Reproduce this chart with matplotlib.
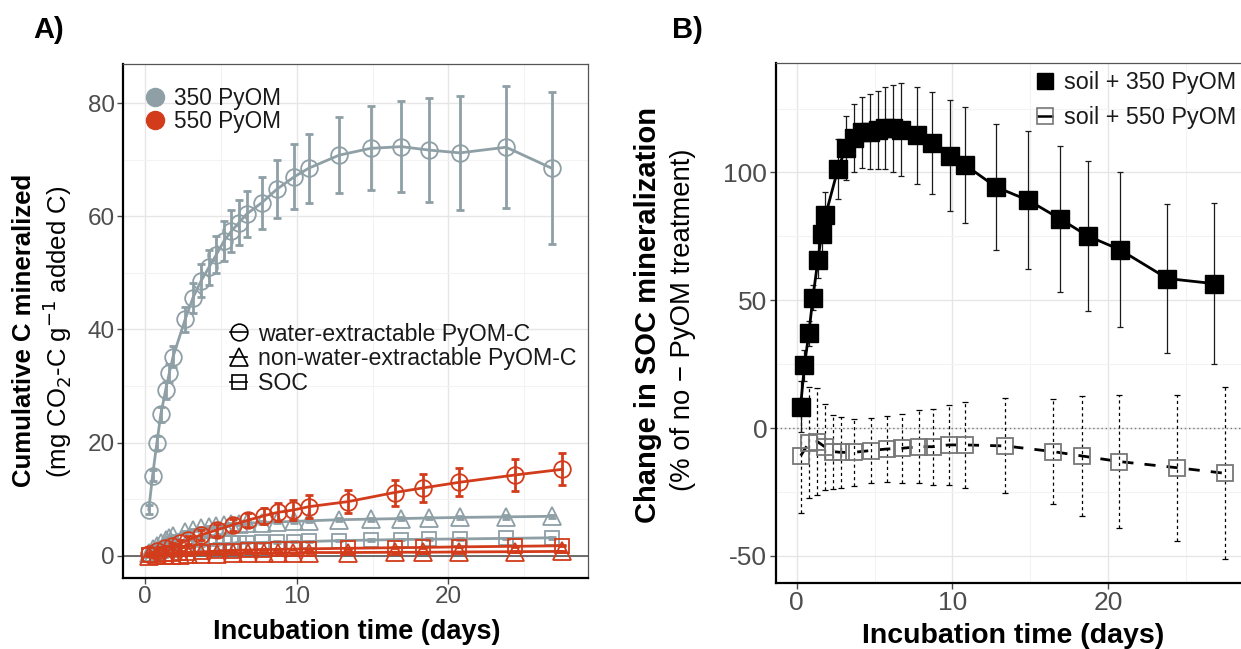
import matplotlib
matplotlib.use("Agg")
import matplotlib.pyplot as plt
from matplotlib.lines import Line2D
import numpy as np

plt.rcParams['font.family'] = ['Liberation Sans', 'DejaVu Sans']
plt.rcParams['axes.unicode_minus'] = False

# ---------------- data ----------------
# measurement times (days)
t350 = [0.25, 0.5, 0.78, 1.04, 1.36, 1.6, 1.85, 2.65, 3.16, 3.7, 4.22, 4.7, 5.2,
        5.7, 6.2, 6.7, 7.7, 8.7, 9.85, 10.8, 12.8, 14.87, 16.9, 18.7, 20.75, 23.8, 26.8]
t550 = [0.26, 0.79, 1.33, 1.8, 2.33, 2.82, 3.67, 4.74, 5.77, 6.77, 7.84, 8.76, 9.76,
        10.8, 13.4, 16.45, 18.3, 20.7, 24.4, 27.5]

# Panel A: cumulative C mineralized (mg CO2-C / g added C)
a350_water = [8.2, 14.2, 19.9, 25.0, 29.3, 32.3, 35.2, 41.8, 45.6, 48.6, 51.0, 53.2, 55.6,
              57.4, 58.9, 60.4, 62.4, 64.8, 67.0, 68.5, 70.8, 72.0, 72.3, 71.7, 71.2, 72.2, 68.5]
a350_water_se = [0.8, 1.0, 1.2, 1.3, 1.5, 1.6, 1.8, 2.2, 2.6, 2.9, 3.1, 3.3, 3.5,
                 3.7, 3.9, 4.1, 4.6, 5.1, 5.8, 6.1, 6.7, 7.4, 8.0, 9.2, 10.1, 10.8, 13.4]
a350_nonwater = [0.6, 1.2, 1.8, 2.3, 2.8, 3.2, 3.5, 4.2, 4.6, 4.9, 5.1, 5.3, 5.5,
                 5.6, 5.7, 5.8, 5.9, 6.0, 6.1, 6.2, 6.4, 6.5, 6.6, 6.7, 6.8, 6.9, 7.0]
a350_nonwater_se = [0.1, 0.1, 0.1, 0.1, 0.15, 0.15, 0.15, 0.2, 0.2, 0.2, 0.2, 0.2, 0.2,
                    0.2, 0.2, 0.2, 0.2, 0.2, 0.2, 0.2, 0.25, 0.25, 0.25, 0.25, 0.25, 0.3, 0.3]
a350_soc = [0.2, 0.4, 0.6, 0.8, 1.0, 1.1, 1.3, 1.6, 1.8, 1.9, 2.0, 2.1, 2.2,
            2.25, 2.3, 2.35, 2.4, 2.45, 2.5, 2.55, 2.7, 2.8, 2.9, 2.95, 3.0, 3.1, 3.2]
a350_soc_se = [0.05, 0.05, 0.05, 0.05, 0.1, 0.1, 0.1, 0.1, 0.1, 0.1, 0.1, 0.1, 0.1,
               0.1, 0.1, 0.1, 0.1, 0.1, 0.1, 0.1, 0.15, 0.15, 0.15, 0.15, 0.15, 0.15, 0.15]

a550_water = [0.4, 0.9, 1.4, 1.8, 2.2, 2.8, 3.7, 4.6, 5.5, 6.3, 7.1, 7.7, 8.1,
              8.7, 9.6, 11.2, 12.0, 13.0, 14.3, 15.3]
a550_water_se = [0.2, 0.3, 0.4, 0.5, 0.6, 0.7, 0.8, 1.0, 1.1, 1.2, 1.4, 1.6, 1.8,
                 2.0, 2.1, 2.3, 2.4, 2.5, 2.8, 2.8]
a550_nonwater = [0.05, 0.1, 0.15, 0.2, 0.25, 0.3, 0.35, 0.4, 0.45, 0.5, 0.5, 0.55, 0.55,
                 0.6, 0.6, 0.65, 0.65, 0.7, 0.75, 0.8]
a550_nonwater_se = [0.05] * 20
a550_soc = [0.1, 0.2, 0.3, 0.4, 0.5, 0.6, 0.7, 0.85, 0.95, 1.05, 1.1, 1.15, 1.2,
            1.25, 1.35, 1.45, 1.5, 1.6, 1.7, 1.8]
a550_soc_se = [0.05] * 20

# Panel B: change in SOC mineralization (% of no-PyOM treatment)
b350 = [8.3, 24.6, 37.0, 51.0, 65.6, 76.0, 83.2, 101.4, 109.6, 113.5, 115.7, 116.0, 116.7,
        117.3, 117.3, 116.8, 114.5, 111.4, 106.6, 103.0, 94.3, 89.1, 81.9, 75.1, 69.8, 58.5, 56.5]
b350_se = [10, 6, 5, 5, 7, 7, 9, 11.7, 12.4, 13.4, 14, 14.6, 15.3,
           16, 17, 18, 19, 20, 21.6, 22.6, 24.5, 27, 28.5, 29.5, 30.3, 29, 31.5]
b550 = [-10.8, -5.7, -5.3, -7.3, -9.2, -9.5, -9.5, -8.8, -8.2, -7.9, -7.3, -7.3, -6.6,
        -6.6, -7.0, -9.2, -10.9, -13.1, -15.5, -17.7]
b550_se = [22.5, 21.8, 21.0, 16.9, 14.5, 13.9, 13.0, 12.8, 13.0, 13.4, 14.3, 14.9, 15.6,
           16.8, 18.6, 20.5, 23.4, 25.9, 28.5, 33.7]

# ---------------- style ----------------
GREY = '#8E9FA6'
RED = '#D23C1B'
TICKC = '#4D4D4D'
W, H = 1241, 649

fig = plt.figure(figsize=(W / 100, H / 100), dpi=100)


def px_box(l, t, r, b):
    return [l / W, 1 - b / H, (r - l) / W, (b - t) / H]


def style_axes(ax, fs):
    ax.set_facecolor('white')
    for s in ['left', 'bottom']:
        ax.spines[s].set_color('black')
        ax.spines[s].set_linewidth(1.6)
    for s in ['top', 'right']:
        ax.spines[s].set_color('#555555')
        ax.spines[s].set_linewidth(0.9)
    ax.tick_params(axis='both', which='major', colors=TICKC, labelcolor=TICKC,
                   labelsize=fs, length=4, width=1.0, pad=2)
    ax.tick_params(axis='both', which='minor', length=0)
    ax.grid(True, which='major', color='#E6E6E6', lw=1.0, zorder=0)
    ax.grid(True, which='minor', color='#F3F3F3', lw=0.8, zorder=0)
    ax.set_axisbelow(True)


# ---------------- Panel A ----------------
axA = fig.add_axes(px_box(123, 64, 588, 578))
style_axes(axA, 17.5)
axA.set_xlim(-1.45, 29.2)
axA.set_ylim(-3.9, 86.9)
axA.set_xticks([0, 10, 20])
axA.set_xticks([5, 15, 25], minor=True)
axA.set_yticks([0, 20, 40, 60, 80])
axA.set_yticks([10, 30, 50, 70], minor=True)
axA.axhline(0, color='#555555', lw=1.2, zorder=1)

series_A = [
    (t350, a350_water, a350_water_se, 'o', 12, GREY),
    (t350, a350_nonwater, a350_nonwater_se, '^', 13, GREY),
    (t350, a350_soc, a350_soc_se, 's', 10, GREY),
    (t550, a550_nonwater, a550_nonwater_se, '^', 13, RED),
    (t550, a550_soc, a550_soc_se, 's', 10, RED),
    (t550, a550_water, a550_water_se, 'o', 12, RED),
]
for i, (tt, yy, ee, mk, ms, col) in enumerate(series_A):
    z = 3 + i
    axA.plot(tt, yy, color=col, lw=2.0, zorder=z)
    axA.errorbar(tt, yy, yerr=ee, fmt='none', ecolor=col, elinewidth=2.0,
                 capsize=3, capthick=2.0, zorder=z)
    axA.plot(tt, yy, ls='none', marker=mk, ms=ms, mfc='none', mec=col, mew=1.3, zorder=z)

h_col = [Line2D([], [], ls='none', marker='o', ms=13, color=GREY),
         Line2D([], [], ls='none', marker='o', ms=13, color=RED)]
leg1 = axA.legend(h_col, ['350 PyOM', '550 PyOM'], loc='upper left',
                  bbox_to_anchor=(0.0, 1.0), frameon=False, fontsize=16.3,
                  handlelength=0.8, handletextpad=0.45, labelspacing=0.0,
                  borderaxespad=0.6)
for txt in leg1.get_texts():
    txt.set_color('#1A1A1A')
axA.add_artist(leg1)

h_shape = [Line2D([], [], color='black', lw=1.2, marker=m, ms=s, mfc='none', mec='black', mew=1.2)
           for m, s in [('o', 12), ('^', 13), ('s', 10.5)]]
leg2 = axA.legend(h_shape, ['water-extractable PyOM-C', 'non-water-extractable PyOM-C', 'SOC'],
                  loc='upper left', bbox_to_anchor=(0.21, 0.515), frameon=False,
                  fontsize=16.7, handlelength=0.75, handletextpad=0.45, labelspacing=0.07,
                  borderaxespad=0.0)
for txt in leg2.get_texts():
    txt.set_color('#1A1A1A')

fig.text(357 / W, 1 - 632 / H, 'Incubation time (days)', ha='center', va='center',
         fontsize=19.5, fontweight='bold')
fig.text(24 / W, 1 - 330 / H, 'Cumulative C mineralized', rotation=90, ha='center',
         va='center', fontsize=18.5, fontweight='bold')
fig.text(57 / W, 1 - 332 / H, r'(mg CO$_2$-C g$^{-1}$ added C)', rotation=90, ha='center',
         va='center', fontsize=18.5)
fig.text(33 / W, 1 - 30 / H, 'A)', ha='left', va='center', fontsize=21, fontweight='bold')

# ---------------- Panel B ----------------
axB = fig.add_axes(px_box(775.5, 63.3, 1253, 582.7))
style_axes(axB, 19)
axB.set_xlim(-1.36, 29.3)
axB.set_ylim(-60.5, 142.7)
axB.set_xticks([0, 10, 20])
axB.set_xticks([5, 15, 25], minor=True)
axB.set_yticks([-50, 0, 50, 100])
axB.set_yticks([-25, 25, 75, 125], minor=True)
axB.axhline(0, color='#777777', lw=1.0, ls=(0, (1, 2)), zorder=1)

# 550 series
eb = axB.errorbar(t550, b550, yerr=b550_se, fmt='none', ecolor='black', elinewidth=0.9,
                  capsize=2, capthick=0.9, zorder=3)
for coll in eb.lines[2]:
    coll.set_linestyle((0, (2.5, 2.5)))
axB.plot(t550, b550, color='black', lw=2.0, dashes=(4, 4), zorder=4)
axB.plot(t550, b550, ls='none', marker='s', ms=11.5, mfc='none', mec='#777777', mew=1.3, zorder=5)

# 350 series
axB.errorbar(t350, b350, yerr=b350_se, fmt='none', ecolor='#1A1A1A', elinewidth=0.9,
             capsize=2.2, capthick=0.9, zorder=6)
axB.plot(t350, b350, color='black', lw=2.0, marker='s', ms=13.5, mfc='black', mec='black',
         zorder=7)

h_B = [Line2D([], [], ls='none', marker='s', ms=12, color='black'),
       Line2D([], [], color='black', lw=1.8, marker='s', ms=11, mfc='none', mec='#777777', mew=1.2)]
legB = axB.legend(h_B, ['soil + 350 PyOM', 'soil + 550 PyOM'], loc='upper right',
                  bbox_to_anchor=(0.995, 1.012), frameon=False, fontsize=16.8,
                  handlelength=0.6, handletextpad=0.55, labelspacing=0.5,
                  borderaxespad=0.2)
for txt in legB.get_texts():
    txt.set_color('#1A1A1A')

fig.text(1013 / W, 1 - 636 / H, 'Incubation time (days)', ha='center', va='center',
         fontsize=20.5, fontweight='bold')
fig.text(648 / W, 1 - 315 / H, 'Change in SOC mineralization', rotation=90, ha='center',
         va='center', fontsize=21, fontweight='bold')
fig.text(683 / W, 1 - 320 / H, '(% of no \u2212 PyOM treatment)', rotation=90, ha='center',
         va='center', fontsize=19.8)
fig.text(672 / W, 1 - 30 / H, 'B)', ha='left', va='center', fontsize=21, fontweight='bold')

fig.savefig('out.png', dpi=100, facecolor='white')
